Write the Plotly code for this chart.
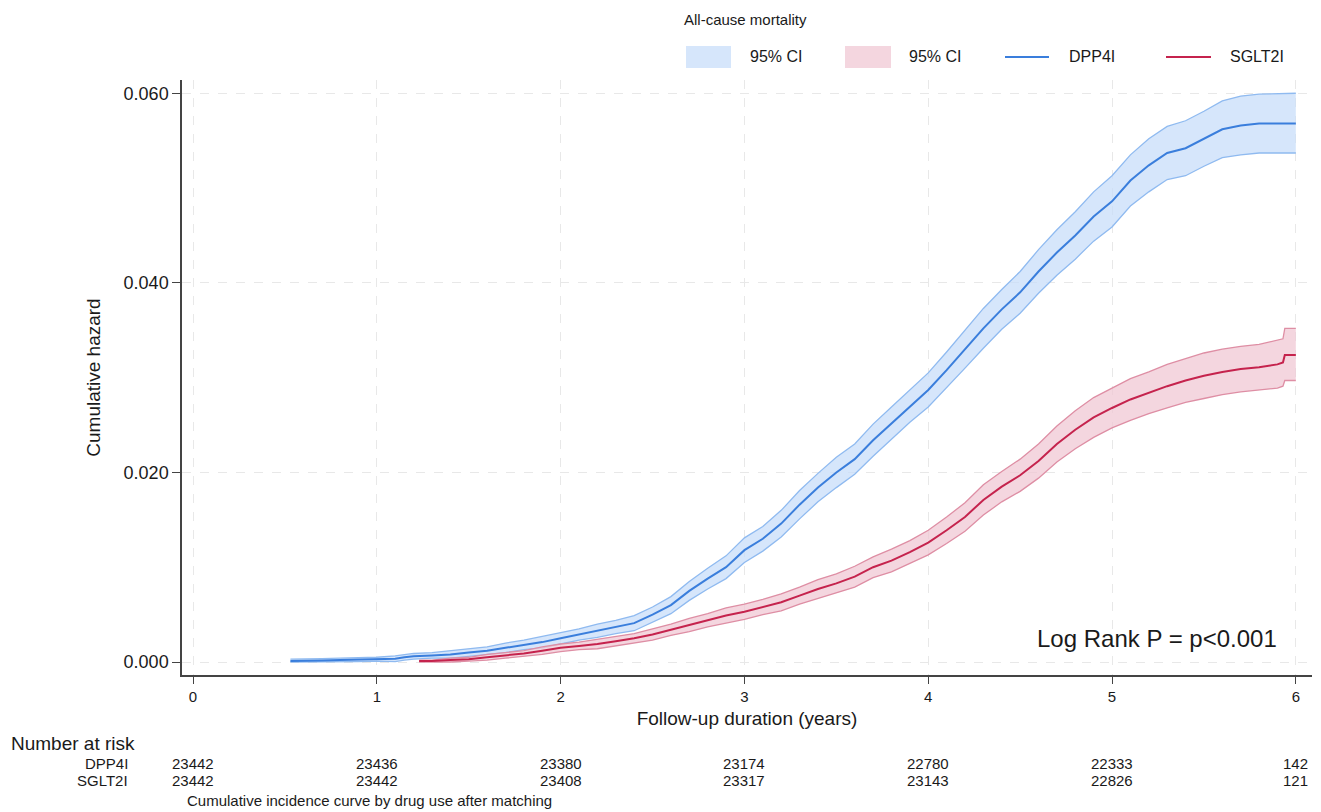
import plotly.graph_objects as go

# ---------------- data ----------------
dpp4i_t = [0.53, 0.6, 0.7, 0.8, 0.9, 1.0, 1.1, 1.15, 1.2, 1.3, 1.4, 1.5, 1.6, 1.7, 1.8, 1.9,
           2.0, 2.1, 2.2, 2.3, 2.4, 2.5, 2.6, 2.7, 2.8, 2.9, 3.0, 3.1, 3.2, 3.3, 3.4, 3.5,
           3.6, 3.7, 3.8, 3.9, 4.0, 4.1, 4.2, 4.3, 4.4, 4.5, 4.6, 4.7, 4.8, 4.9, 5.0, 5.1,
           5.2, 5.3, 5.4, 5.5, 5.6, 5.7, 5.8, 6.0]
dpp4i_est = [0.0001, 0.0001, 0.00015, 0.0002, 0.00025, 0.0003, 0.00035, 0.0005, 0.0006, 0.0007,
             0.0008, 0.0010, 0.0012, 0.0015, 0.0018, 0.0021, 0.0025, 0.0029, 0.0033, 0.0037,
             0.0041, 0.0050, 0.0060, 0.0075, 0.0088, 0.0100, 0.0118, 0.0130, 0.0146, 0.0166,
             0.0184, 0.0200, 0.0214, 0.0234, 0.0252, 0.0270, 0.0287, 0.0308, 0.0330, 0.0352,
             0.0372, 0.0390, 0.0412, 0.0432, 0.0450, 0.0470, 0.0486, 0.0508, 0.0524, 0.0537,
             0.0542, 0.0552, 0.0562, 0.0566, 0.0568, 0.0568]
dpp4i_lo = [0.0000, 0.0000, 0.0000, 0.0000, 0.00005, 0.0001, 0.00005, 0.0002, 0.0003, 0.0004,
            0.0004, 0.0006, 0.0008, 0.0010, 0.0013, 0.0015, 0.0019, 0.0023, 0.0026, 0.0030,
            0.0033, 0.0042, 0.0051, 0.0065, 0.0077, 0.0088, 0.0105, 0.0117, 0.0132, 0.0151,
            0.0169, 0.0184, 0.0198, 0.0217, 0.0235, 0.0253, 0.0269, 0.0289, 0.0310, 0.0331,
            0.0351, 0.0368, 0.0389, 0.0408, 0.0425, 0.0444, 0.0459, 0.0481, 0.0496, 0.0509,
            0.0513, 0.0523, 0.0532, 0.0535, 0.0537, 0.0537]
dpp4i_hi = [0.0003, 0.0003, 0.00035, 0.0004, 0.00045, 0.0005, 0.00065, 0.0008, 0.0009, 0.0010,
            0.0012, 0.0014, 0.0016, 0.0020, 0.0023, 0.0027, 0.0031, 0.0035, 0.0040, 0.0044,
            0.0049, 0.0058, 0.0069, 0.0085, 0.0099, 0.0112, 0.0131, 0.0143, 0.0160, 0.0181,
            0.0199, 0.0216, 0.0230, 0.0251, 0.0269, 0.0287, 0.0305, 0.0327, 0.0350, 0.0373,
            0.0393, 0.0412, 0.0435, 0.0456, 0.0475, 0.0496, 0.0513, 0.0535, 0.0552, 0.0565,
            0.0571, 0.0581, 0.0592, 0.0597, 0.0599, 0.0600]

sglt2i_t = [1.23, 1.3, 1.4, 1.5, 1.6, 1.7, 1.8, 1.9, 2.0, 2.1, 2.2, 2.3, 2.4, 2.5, 2.6, 2.7,
            2.8, 2.9, 3.0, 3.1, 3.2, 3.3, 3.4, 3.5, 3.6, 3.7, 3.8, 3.9, 4.0, 4.1, 4.2, 4.3,
            4.4, 4.5, 4.6, 4.7, 4.8, 4.9, 5.0, 5.1, 5.2, 5.3, 5.4, 5.5, 5.6, 5.7, 5.8, 5.9,
            5.93, 5.94, 6.0]
sglt2i_est = [0.0001, 0.0001, 0.0002, 0.0003, 0.0005, 0.0007, 0.0009, 0.0012, 0.0015, 0.0017,
              0.0019, 0.0022, 0.0025, 0.0029, 0.0034, 0.0039, 0.0044, 0.0049, 0.0053, 0.0058,
              0.0063, 0.0070, 0.0077, 0.0083, 0.0090, 0.0100, 0.0107, 0.0116, 0.0126, 0.0139,
              0.0153, 0.0171, 0.0185, 0.0197, 0.0212, 0.0230, 0.0245, 0.0258, 0.0268, 0.0277,
              0.0284, 0.0291, 0.0297, 0.0302, 0.0306, 0.0309, 0.0311, 0.0314, 0.0316, 0.0324,
              0.0324]
sglt2i_lo = [0.0000, 0.0000, 0.0000, 0.0001, 0.0002, 0.0004, 0.0006, 0.0008, 0.0011, 0.0013,
             0.0014, 0.0017, 0.0020, 0.0023, 0.0028, 0.0032, 0.0037, 0.0041, 0.0045, 0.0050,
             0.0054, 0.0061, 0.0067, 0.0073, 0.0079, 0.0089, 0.0095, 0.0104, 0.0113, 0.0125,
             0.0138, 0.0155, 0.0169, 0.0180, 0.0194, 0.0211, 0.0225, 0.0237, 0.0247, 0.0255,
             0.0262, 0.0268, 0.0274, 0.0278, 0.0282, 0.0285, 0.0287, 0.0289, 0.0291, 0.0297,
             0.0297]
sglt2i_hi = [0.0002, 0.0002, 0.0004, 0.0005, 0.0008, 0.0010, 0.0012, 0.0016, 0.0019, 0.0021,
             0.0024, 0.0027, 0.0030, 0.0035, 0.0040, 0.0046, 0.0051, 0.0057, 0.0061, 0.0066,
             0.0072, 0.0079, 0.0087, 0.0093, 0.0101, 0.0111, 0.0119, 0.0128, 0.0139, 0.0153,
             0.0168, 0.0187, 0.0201, 0.0214, 0.0230, 0.0249, 0.0265, 0.0279, 0.0289, 0.0299,
             0.0306, 0.0314, 0.0320, 0.0326, 0.0330, 0.0333, 0.0335, 0.0339, 0.0341, 0.0352,
             0.0352]

risk_times = [0, 1, 2, 3, 4, 5, 6]
risk_dpp4i = [23442, 23436, 23380, 23174, 22780, 22333, 142]
risk_sglt2i = [23442, 23442, 23408, 23317, 23143, 22826, 121]

x_ticks = [0, 1, 2, 3, 4, 5, 6]
y_ticks = [0.0, 0.02, 0.04, 0.06]

# ---------------- styles ----------------
FONT = "Liberation Sans, Arial, Helvetica, sans-serif"
TXT = "#1a1a1a"
BLUE = "#3a7edc"
BLUE_EDGE = "#8fbaf0"
BLUE_FILL = "rgba(200,222,250,0.75)"
RED = "#c5234d"
RED_EDGE = "#de8ea4"
RED_FILL = "rgba(240,200,212,0.75)"

OFF = 8  # default page body margin
W, H = 1321 - OFF, 812 - OFF
ML, MT = 182 - OFF, 80 - OFF
PLOT_R, PLOT_B = 1312 - OFF, 675 - OFF
MR, MB = W - PLOT_R, H - PLOT_B
PW, PH = PLOT_R - ML, PLOT_B - MT


def pxx(px):
    """page pixel x -> paper coordinate"""
    return (px - OFF - ML) / PW


def pxy(py):
    """page pixel y -> paper coordinate"""
    return (PLOT_B - (py - OFF)) / PH


fig = go.Figure()

# CI bands
for t, lo, hi, edge, fill in [(dpp4i_t, dpp4i_lo, dpp4i_hi, BLUE_EDGE, BLUE_FILL),
                              (sglt2i_t, sglt2i_lo, sglt2i_hi, RED_EDGE, RED_FILL)]:
    fig.add_trace(go.Scatter(x=t, y=lo, mode="lines", line=dict(color=edge, width=1.3),
                             showlegend=False, hoverinfo="skip"))
    fig.add_trace(go.Scatter(x=t, y=hi, mode="lines", line=dict(color=edge, width=1.3),
                             fill="tonexty", fillcolor=fill, showlegend=False, hoverinfo="skip"))

# estimates
fig.add_trace(go.Scatter(x=dpp4i_t, y=dpp4i_est, mode="lines", name="DPP4I",
                         line=dict(color=BLUE, width=2), showlegend=False))
fig.add_trace(go.Scatter(x=sglt2i_t, y=sglt2i_est, mode="lines", name="SGLT2I",
                         line=dict(color=RED, width=2), showlegend=False))

# ---------------- manual legend ----------------
shapes = []
annotations = []
annotations.append(dict(text="All-cause mortality", xref="paper", yref="paper",
                        x=pxx(682), y=pxy(20), xanchor="left", yanchor="middle",
                        showarrow=False, font=dict(size=15, color=TXT, family=FONT)))
legend_items = [
    ("rect", BLUE_FILL, 686, 731, "95% CI", 748),
    ("rect", RED_FILL, 845, 891, "95% CI", 907),
    ("line", BLUE, 1005, 1049, "DPP4I", 1067),
    ("line", RED, 1166, 1211, "SGLT2I", 1228),
]
for kind, col, x0, x1, label, tx in legend_items:
    if kind == "rect":
        shapes.append(dict(type="rect", xref="paper", yref="paper",
                           x0=pxx(x0), x1=pxx(x1), y0=pxy(68), y1=pxy(46),
                           fillcolor=col, line=dict(width=0)))
    else:
        shapes.append(dict(type="line", xref="paper", yref="paper",
                           x0=pxx(x0), x1=pxx(x1), y0=pxy(57), y1=pxy(57),
                           line=dict(color=col, width=2)))
    annotations.append(dict(text=label, xref="paper", yref="paper", x=pxx(tx), y=pxy(57),
                            xanchor="left", yanchor="middle", showarrow=False,
                            font=dict(size=16, color=TXT, family=FONT)))

# Log rank text
annotations.append(dict(text="Log Rank P = p<0.001", xref="paper", yref="paper",
                        x=pxx(1157), y=pxy(638), xanchor="center", yanchor="middle",
                        showarrow=False, font=dict(size=24, color=TXT, family=FONT)))

# ---------------- risk table ----------------
annotations.append(dict(text="Number at risk", xref="paper", yref="paper",
                        x=pxx(9), y=pxy(743), xanchor="left", yanchor="middle",
                        showarrow=False, font=dict(size=19, color=TXT, family=FONT)))
for label, vals, py in [("DPP4I", risk_dpp4i, 763), ("SGLT2I", risk_sglt2i, 780)]:
    annotations.append(dict(text=label, xref="paper", yref="paper", x=pxx(130), y=pxy(py),
                            xanchor="right", yanchor="middle", showarrow=False,
                            font=dict(size=15, color=TXT, family=FONT)))
    for t, v in zip(risk_times, vals):
        annotations.append(dict(text=str(v), xref="x", yref="paper", x=t, y=pxy(py),
                                xanchor="center", yanchor="middle", showarrow=False,
                                font=dict(size=15, color=TXT, family=FONT)))
annotations.append(dict(text="Cumulative incidence curve by drug use after matching",
                        xref="paper", yref="paper", x=pxx(185), y=pxy(800),
                        xanchor="left", yanchor="middle", showarrow=False,
                        font=dict(size=15, color=TXT, family=FONT)))

fig.update_layout(
    width=W, height=H,
    margin=dict(l=ML, r=MR, t=MT, b=MB),
    paper_bgcolor="white", plot_bgcolor="white",
    font=dict(family=FONT, color=TXT),
    shapes=shapes, annotations=annotations,
    showlegend=False,
)
fig.update_xaxes(
    range=[-0.06, 6.088], tickvals=x_ticks, ticktext=[str(v) for v in x_ticks],
    showline=True, linecolor="#444", linewidth=1.5, mirror=False,
    ticks="outside", ticklen=7, tickwidth=1.2, tickcolor="#444",
    tickfont=dict(size=15, color=TXT, family=FONT),
    showgrid=True, gridcolor="#e8e8e8", gridwidth=1, griddash="dash", zeroline=False,
    title=dict(text="Follow-up duration (years)", font=dict(size=19, color=TXT, family=FONT),
               standoff=8),
)
fig.update_yaxes(
    range=[-0.00137, 0.0614], tickvals=y_ticks, tickformat=".3f",
    showline=True, linecolor="#444", linewidth=1.5, mirror=False,
    ticks="outside", ticklen=8, tickwidth=1.2, tickcolor="#444",
    tickfont=dict(size=18, color=TXT, family=FONT),
    showgrid=True, gridcolor="#e8e8e8", gridwidth=1, griddash="dash", zeroline=False,
    title=dict(text="Cumulative hazard", font=dict(size=19, color=TXT, family=FONT),
               standoff=18),
)

fig.write_html("out.html")
